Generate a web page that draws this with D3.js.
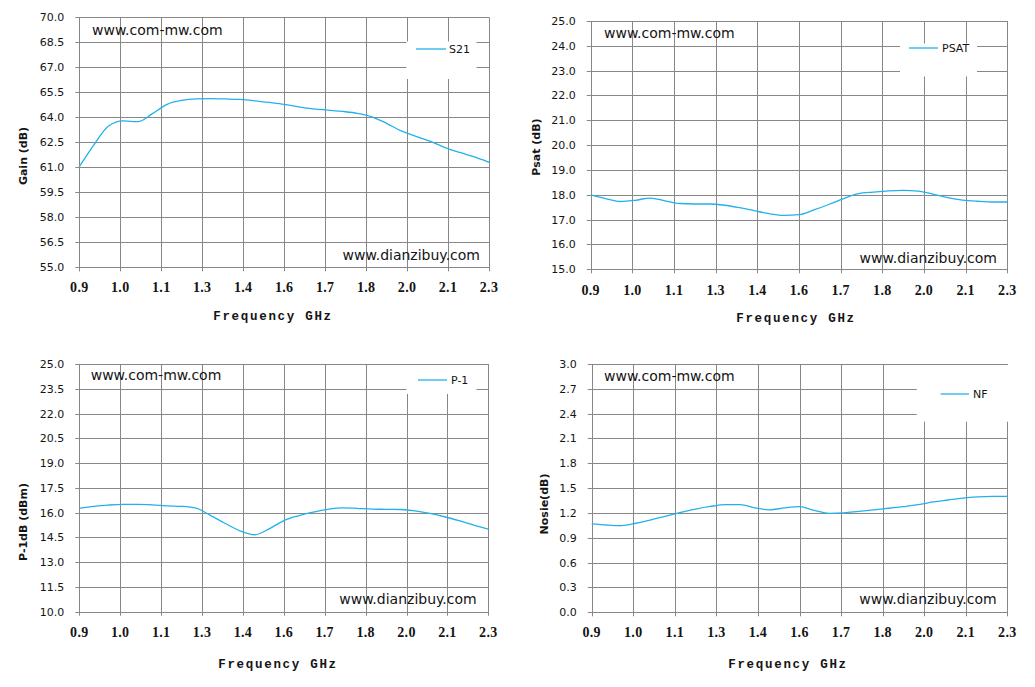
<!DOCTYPE html>
<html>
<head>
<meta charset="utf-8">
<script src="https://cdn.jsdelivr.net/npm/d3@7/dist/d3.min.js"></script>
<style>
  html, body { margin: 0; padding: 0; background: #fff; }
  svg { display: block; }
</style>
</head>
<body>
<svg id="chart" width="1035" height="687"></svg>
<script>
// ---------------- DATA ----------------
const freq = [0.90,0.95,1.00,1.05,1.10,1.15,1.20,1.25,1.30,1.35,1.40,1.45,1.50,1.55,1.60,1.65,1.70,1.75,1.80,1.85,1.90,1.95,2.00,2.05,2.10,2.15,2.20,2.25,2.30];
const gain = [61.04,62.35,63.48,63.78,63.74,64.22,64.78,65.02,65.11,65.12,65.10,65.07,64.99,64.89,64.78,64.63,64.51,64.43,64.35,64.24,64.03,63.64,63.18,62.86,62.56,62.18,61.89,61.62,61.30];
const psat = [18.00,17.85,17.73,17.78,17.87,17.76,17.65,17.63,17.63,17.58,17.48,17.36,17.24,17.17,17.20,17.39,17.61,17.85,18.05,18.11,18.16,18.18,18.15,18.03,17.89,17.79,17.74,17.71,17.71];
const p1db = [16.26,16.38,16.46,16.50,16.50,16.47,16.41,16.38,16.27,15.82,15.34,14.90,14.66,15.02,15.52,15.81,16.03,16.20,16.29,16.26,16.21,16.20,16.19,16.11,15.95,15.75,15.51,15.25,15.00];
const nf   = [1.068,1.055,1.048,1.076,1.116,1.163,1.207,1.247,1.279,1.300,1.301,1.263,1.238,1.262,1.276,1.231,1.196,1.201,1.220,1.237,1.257,1.277,1.300,1.333,1.357,1.380,1.394,1.400,1.400];

const xTickValues = [0.90,1.04,1.18,1.32,1.46,1.60,1.74,1.88,2.02,2.16,2.30];
const xTickLabels = ["0.9","1.0","1.1","1.3","1.4","1.6","1.7","1.8","2.0","2.1","2.3"];

const gainTicks = [55.0,56.5,58.0,59.5,61.0,62.5,64.0,65.5,67.0,68.5,70.0];
const psatTicks = [15,16,17,18,19,20,21,22,23,24,25];
const p1dbTicks = [10.0,11.5,13.0,14.5,16.0,17.5,19.0,20.5,22.0,23.5,25.0];
const nfTicks   = [0.0,0.3,0.6,0.9,1.2,1.5,1.8,2.1,2.4,2.7,3.0];

const seriesNames = ["S21","PSAT","P-1","NF"];
const yTitles = ["Gain (dB)","Psat (dB)","P-1dB (dBm)","Nosie(dB)"];
const xTitle = "Frequency GHz";
const watermarkTop = "www.com-mw.com";
const watermarkBottom = "www.dianzibuy.com";

// ---------------- LAYOUT ----------------
const LINE_COLOR = "#22b1ea";
const GRID_COLOR = "#878787";
const TEXT_COLOR = "#141414";

const panels = [
  { values: gain, ticks: gainTicks, name: seriesNames[0], ytitle: yTitles[0],
    x0: 79.3, x1: 489, y0: 17.3, y1: 267.3,
    ytx: 27, yty: 156, xtx: 273, xty: 320, xlY: 291.5,
    box: [406.5, 41.5, 70, 37.5], lg: [416, 446, 49, 449],
    wm1: [92, 35], wm2: [480, 260] },
  { values: psat, ticks: psatTicks, name: seriesNames[1], ytitle: yTitles[1],
    x0: 590.7, x1: 1007.3, y0: 21, y1: 269.3,
    ytx: 540, yty: 147, xtx: 796, xty: 322, xlY: 295,
    box: [900, 43.5, 77, 33], lg: [909, 938, 48, 942],
    wm1: [604, 37.5], wm2: [997, 263] },
  { values: p1db, ticks: p1dbTicks, name: seriesNames[2], ytitle: yTitles[2],
    x0: 79.3, x1: 488.3, y0: 364, y1: 611.7,
    ytx: 27, yty: 522, xtx: 278, xty: 668, xlY: 636.5,
    box: [406.5, 365, 70, 29], lg: [418, 447, 380, 451],
    wm1: [90.7, 380], wm2: [476.7, 604] },
  { values: nf, ticks: nfTicks, name: seriesNames[3], ytitle: yTitles[3],
    x0: 591.7, x1: 1007.3, y0: 364, y1: 612.3,
    ytx: 547.5, yty: 504, xtx: 788, xty: 668, xlY: 637,
    box: [916.7, 365, 92, 56.7], lg: [940.7, 969, 394, 973],
    wm1: [604, 380.7], wm2: [996.7, 604] }
];

const svg = d3.select("#chart");
svg.append("rect").attr("width", 1035).attr("height", 687).attr("fill", "#fff");

panels.forEach(p => {
  const g = svg.append("g");
  const x = d3.scaleLinear().domain([freq[0], freq[freq.length - 1]]).range([p.x0, p.x1]);
  const y = d3.scaleLinear().domain([p.ticks[0], p.ticks[p.ticks.length - 1]]).range([p.y1, p.y0]);

  // horizontal grid (with small outward ticks)
  g.append("g").selectAll("line").data(p.ticks).join("line")
    .attr("x1", p.x0 - 4).attr("x2", p.x1)
    .attr("y1", d => Math.round(y(d)) + 0.5).attr("y2", d => Math.round(y(d)) + 0.5)
    .attr("stroke", GRID_COLOR).attr("stroke-width", 1);

  // vertical grid
  g.append("g").selectAll("line").data(xTickValues).join("line")
    .attr("x1", d => Math.round(x(d)) + 0.5).attr("x2", d => Math.round(x(d)) + 0.5)
    .attr("y1", p.y0).attr("y2", p.y1 + 4)
    .attr("stroke", GRID_COLOR).attr("stroke-width", 1);

  // y tick labels
  g.append("g").selectAll("text").data(p.ticks).join("text")
    .attr("x", p.x0 - 15).attr("y", d => y(d)).attr("dy", "0.36em")
    .attr("text-anchor", "end")
    .attr("font-family", "DejaVu Sans, Verdana, sans-serif").attr("font-size", 11)
    .attr("fill", TEXT_COLOR)
    .text(d => d.toFixed(1));

  // x tick labels
  g.append("g").selectAll("text").data(xTickValues).join("text")
    .attr("x", d => x(d)).attr("y", p.xlY)
    .attr("text-anchor", "middle")
    .attr("font-family", "Liberation Serif, serif").attr("font-weight", "bold").attr("font-size", 14)
    .attr("letter-spacing", 0.3)
    .attr("fill", TEXT_COLOR)
    .text((d, i) => xTickLabels[i]);

  // x axis title
  g.append("text")
    .attr("x", p.xtx).attr("y", p.xty).attr("text-anchor", "middle")
    .attr("font-family", "Liberation Mono, monospace").attr("font-weight", "bold").attr("font-size", 12.5)
    .attr("letter-spacing", 1.7)
    .attr("fill", TEXT_COLOR)
    .text(xTitle);

  // y axis title
  g.append("text")
    .attr("transform", `translate(${p.ytx},${p.yty}) rotate(-90)`)
    .attr("text-anchor", "middle")
    .attr("font-family", "DejaVu Sans, Verdana, sans-serif").attr("font-weight", "bold").attr("font-size", 11)
    .attr("fill", TEXT_COLOR)
    .text(p.ytitle);

  // legend background
  g.append("rect")
    .attr("x", p.box[0]).attr("y", p.box[1]).attr("width", p.box[2]).attr("height", p.box[3])
    .attr("fill", "#fff");

  // data line
  const line = d3.line()
    .x((d, i) => x(freq[i]))
    .y(d => y(d))
    .curve(d3.curveMonotoneX);
  g.append("path").datum(p.values)
    .attr("d", line)
    .attr("fill", "none").attr("stroke", LINE_COLOR).attr("stroke-width", 1.3);

  // legend entry
  g.append("line")
    .attr("x1", p.lg[0]).attr("x2", p.lg[1]).attr("y1", p.lg[2]).attr("y2", p.lg[2])
    .attr("stroke", LINE_COLOR).attr("stroke-width", 1.3);
  g.append("text")
    .attr("x", p.lg[3]).attr("y", p.lg[2]).attr("dy", "0.36em")
    .attr("font-family", "DejaVu Sans, Verdana, sans-serif").attr("font-size", 11)
    .attr("fill", TEXT_COLOR)
    .text(p.name);

  // watermarks
  g.append("text")
    .attr("x", p.wm1[0]).attr("y", p.wm1[1])
    .attr("font-family", "DejaVu Sans, Verdana, sans-serif").attr("font-size", 14)
    .attr("fill", TEXT_COLOR)
    .text(watermarkTop);
  g.append("text")
    .attr("x", p.wm2[0]).attr("y", p.wm2[1]).attr("text-anchor", "end")
    .attr("font-family", "DejaVu Sans, Verdana, sans-serif").attr("font-size", 14)
    .attr("fill", TEXT_COLOR)
    .text(watermarkBottom);
});
</script>
</body>
</html>
